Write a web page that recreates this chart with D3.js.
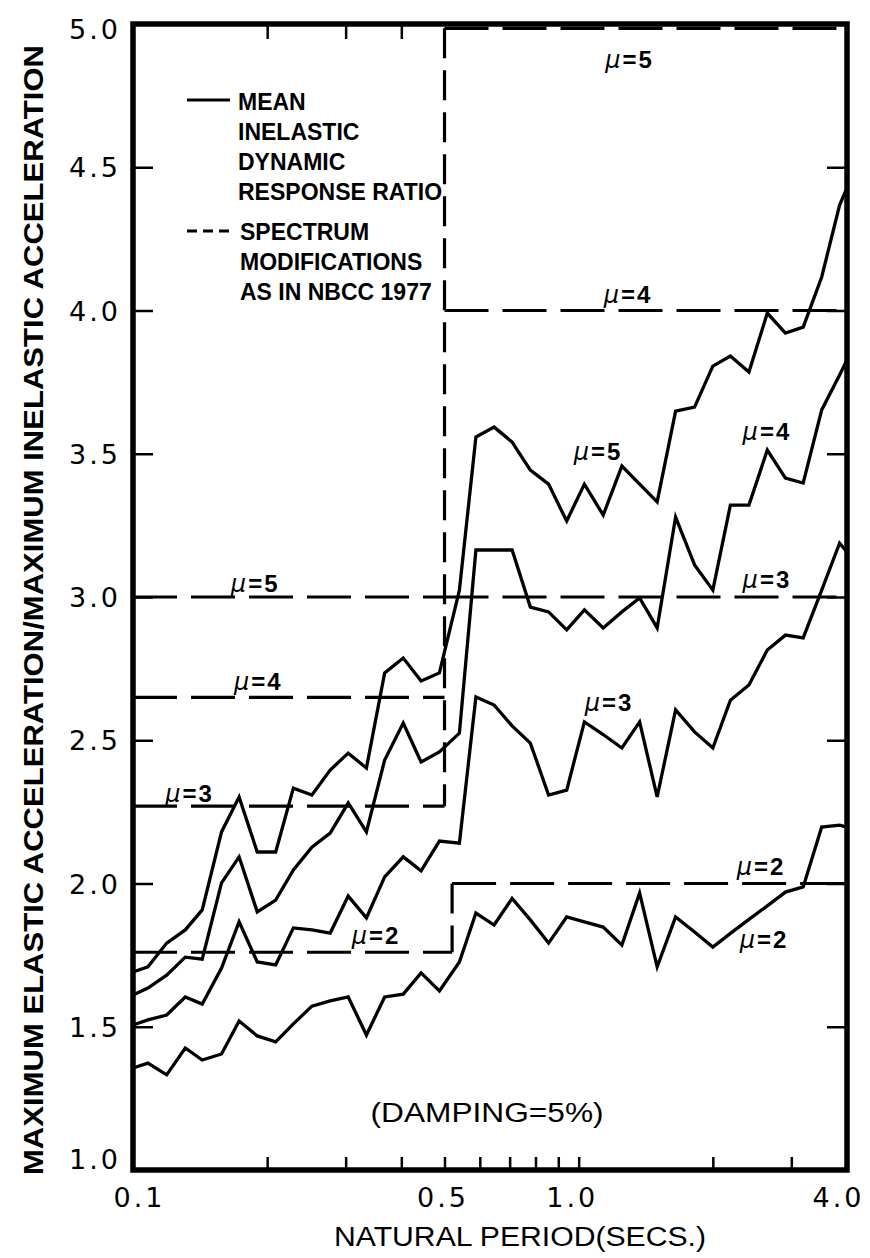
<!DOCTYPE html>
<html lang="en">
    <head>
        <meta charset="utf-8">
        <title>Inelastic Dynamic Response Ratio</title>
        <script type="text/javascript" src="https://d3js.org/d3.v7.min.js"></script>
        <style type="text/css">
            body{ margin:0; background:#fff; }
            .curve{ fill:none; stroke:#000; stroke-width:3.3px; stroke-linejoin:miter; }
            .spec{ fill:none; stroke:#000; stroke-width:3.2px; }
            .frame{ fill:none; stroke:#000; stroke-width:5.5px; }
            .axis path{ display:none; }
            .axis line{ stroke:#000; stroke-width:2.5px; }
            .axis text{ font-family:"DejaVu Sans"; font-size:27px; fill:#000; letter-spacing:3px; }
            .legend text{ font-family:"Liberation Sans"; font-weight:bold; font-size:23px; }
            .mu{ font-family:"Liberation Sans"; font-weight:bold; font-size:24px; letter-spacing:2px; }
            .title{ font-family:"Liberation Sans"; font-size:27px; }
        </style>
    </head>
    <body>
        <svg id="chart" width="870" height="1258"></svg>
        <script type="text/javascript">
        //periods (secs) at which the mean ratios were computed
        const periods = [0.100, 0.108, 0.119, 0.131, 0.143, 0.158, 0.173, 0.190, 0.209, 0.229,
                         0.252, 0.277, 0.304, 0.334, 0.367, 0.404, 0.443, 0.487, 0.540, 0.588,
                         0.646, 0.709, 0.779, 0.856, 0.940, 1.03, 1.135, 1.25, 1.37, 1.50,
                         1.65, 1.82, 2.00, 2.19, 2.41, 2.65, 2.91, 3.19, 3.51, 3.85, 4.00];
        //mean inelastic dynamic response ratio, one array per ductility
        const mu2 = [1.356, 1.373, 1.332, 1.426, 1.384, 1.405, 1.520, 1.468, 1.447, 1.510,
                     1.572, 1.590, 1.604, 1.471, 1.604, 1.614, 1.688, 1.625, 1.726, 1.897,
                     1.855, 1.948, 1.873, 1.792, 1.883, 1.866, 1.848, 1.785, 1.967, 1.709,
                     1.883, 1.831, 1.778, 1.826, 1.875, 1.922, 1.970, 1.988, 2.197, 2.204, 2.197];
        const mu3 = [1.506, 1.524, 1.541, 1.604, 1.579, 1.705, 1.866, 1.726, 1.716, 1.845,
                     1.838, 1.827, 1.956, 1.880, 2.023, 2.093, 2.044, 2.148, 2.141, 2.651,
                     2.623, 2.550, 2.490, 2.309, 2.326, 2.564, 2.520, 2.473, 2.564, 2.302,
                     2.606, 2.529, 2.473, 2.640, 2.693, 2.815, 2.867, 2.857, 3.024, 3.188, 3.157];
        const mu4 = [1.611, 1.635, 1.680, 1.743, 1.736, 2.002, 2.093, 1.901, 1.942, 2.047,
                     2.127, 2.176, 2.281, 2.180, 2.431, 2.560, 2.424, 2.459, 2.525, 3.164,
                     3.164, 3.164, 2.965, 2.948, 2.885, 2.955, 2.892, 2.948, 2.997, 2.892,
                     3.279, 3.112, 3.024, 3.321, 3.321, 3.513, 3.415, 3.398, 3.653, 3.775, 3.827];
        const mu5 = [1.691, 1.709, 1.792, 1.838, 1.908, 2.180, 2.302, 2.110, 2.110, 2.333,
                     2.309, 2.396, 2.455, 2.403, 2.735, 2.787, 2.707, 2.735, 3.024, 3.558,
                     3.593, 3.541, 3.443, 3.394, 3.265, 3.394, 3.286, 3.457, 3.394, 3.332,
                     3.649, 3.663, 3.806, 3.841, 3.785, 3.991, 3.921, 3.942, 4.117, 4.368, 4.428];
        //NBCC 1977 spectrum modifications
        const specMu = [2, 3, 4, 5];
        const specShort = [1.76, 2.27, 2.65, 3.0];
        const specLong = [2.0, 3.0, 4.0, 4.985];
        const specBreak = [0.52, 0.5, 0.5, 0.5];
        //ticks
        const xTicks = [0.1, 0.2, 0.3, 0.4, 0.5, 0.6, 0.7, 0.8, 0.9, 1.0, 2.0, 3.0, 4.0];
        const xTopTicks = [0.2, 0.3, 0.4];
        const xLabels = [0.1, 0.5, 1.0, 4.0];
        const yTicks = [1.0, 1.5, 2.0, 2.5, 3.0, 3.5, 4.0, 4.5, 5.0];
        //mu labels on the curves
        const labelMu = [5, 4, 5, 4, 3, 3, 2, 2, 5, 4, 3, 2];
        const labelPeriod = [1.30, 1.29, 1.105, 2.645, 2.645, 1.17, 2.565, 2.605, 0.188, 0.191, 0.134, 0.351];
        const labelValue = [4.846, 4.026, 3.478, 3.548, 3.031, 2.602, 2.030, 1.775, 3.017, 2.675, 2.284, 1.789];

        const svg = d3.select("#chart");
        const x = d3.scaleLog().domain([0.1, 4]).range([133, 847]);
        const y = d3.scaleLinear().domain([1, 5]).range([1170, 24]);

        //spectrum dashed lines (horizontal parts)
        const hLine = d3.line().x(d => x(d[0])).y(d => y(d[1]));
        specMu.forEach((m, i) => {
            svg.append("path").attr("class", "spec")
               .attr("stroke-dasharray", "44,14")
               .attr("d", hLine([[0.1, specShort[i]], [specBreak[i], specShort[i]]]));
            svg.append("path").attr("class", "spec")
               .attr("stroke-dasharray", "44,14")
               .attr("d", hLine([[specBreak[i], specLong[i]], [4, specLong[i]]]));
        });
        //vertical parts, one per break period
        d3.group(d3.range(specMu.length), i => specBreak[i]).forEach((idx, b) => {
            const lo = d3.min(idx, i => specShort[i]);
            const hi = d3.max(idx, i => specLong[i]);
            svg.append("path").attr("class", "spec")
               .attr("stroke-dasharray", "30,12")
               .attr("d", hLine([[b, hi], [b, lo]]));
        });

        //mean curves
        const line = d3.line().x((d, i) => x(periods[i])).y(d => y(d));
        svg.selectAll(".curve")
           .data([mu2, mu3, mu4, mu5])
           .join("path")
           .attr("class", "curve")
           .attr("d", line);

        //axes with inward ticks
        const fmt = d3.format(".1f");
        const bottom = svg.append("g").attr("class", "axis")
            .attr("transform", "translate(0,1170)")
            .call(d3.axisBottom(x).tickValues(xTicks).tickSize(-13).tickPadding(18)
                  .tickFormat(d => xLabels.includes(d) ? fmt(d) : ""));
        const nudge = {0.1: 6, 0.5: -2, 1: -7, 4: -9};
        bottom.selectAll("text").attr("dx", d => nudge[d] || 0);

        svg.append("g").attr("class", "axis")
            .attr("transform", "translate(0,24)")
            .call(d3.axisTop(x).tickValues(xTopTicks).tickSize(-15).tickFormat(""));

        const left = svg.append("g").attr("class", "axis")
            .attr("transform", "translate(133,0)")
            .call(d3.axisLeft(y).tickValues(yTicks).tickSize(-20).tickPadding(12).tickFormat(fmt));
        left.selectAll("text").attr("dy", d => d === 5 ? "0.55em" : d === 1 ? "-0.05em" : "0.36em");

        svg.append("g").attr("class", "axis")
            .attr("transform", "translate(847,0)")
            .call(d3.axisRight(y).tickValues(yTicks.slice(1, -1)).tickSize(-20).tickFormat(""));

        //frame
        svg.append("rect").attr("class", "frame")
           .attr("x", x(0.1)).attr("y", y(5))
           .attr("width", x(4) - x(0.1)).attr("height", y(1) - y(5));

        //mu labels
        labelMu.forEach((m, i) => {
            const t = svg.append("text").attr("class", "mu")
                .attr("x", x(labelPeriod[i])).attr("y", y(labelValue[i]))
                .attr("text-anchor", "middle");
            t.append("tspan").attr("font-style", "italic").attr("font-weight", "normal")
             .attr("font-family", "DejaVu Sans").text("\u03bc");
            t.append("tspan").text("=" + m);
        });

        //legend
        const legend = svg.append("g").attr("class", "legend").attr("transform", "translate(187,0)");
        legend.append("line").attr("x1", 0).attr("x2", 43).attr("y1", 100).attr("y2", 100)
              .attr("stroke", "#000").attr("stroke-width", 3);
        legend.append("line").attr("x1", 0).attr("x2", 43).attr("y1", 231).attr("y2", 231)
              .attr("stroke", "#000").attr("stroke-width", 3).attr("stroke-dasharray", "10,6");
        const legendRows = ["MEAN", "INELASTIC", "DYNAMIC", "RESPONSE RATIO"];
        const legendRows2 = ["SPECTRUM", "MODIFICATIONS", "AS IN NBCC 1977"];
        legendRows.forEach((s, i) => legend.append("text").attr("x", 51).attr("y", 110 + i * 30).text(s));
        legendRows2.forEach((s, i) => legend.append("text").attr("x", 53).attr("y", 240 + i * 30).text(s));

        //damping note
        svg.append("text").attr("class", "title")
           .attr("x", x(0.623)).attr("y", y(1.168))
           .attr("text-anchor", "middle")
           .attr("textLength", 233).attr("lengthAdjust", "spacingAndGlyphs")
           .text("(DAMPING=5%)");

        //axis titles
        svg.append("text").attr("class", "title")
           .attr("x", 520).attr("y", 1246)
           .attr("text-anchor", "middle")
           .attr("textLength", 372).attr("lengthAdjust", "spacingAndGlyphs")
           .text("NATURAL PERIOD(SECS.)");
        svg.append("text").attr("class", "title")
           .attr("transform", "translate(43,610) rotate(-90)")
           .attr("text-anchor", "middle")
           .attr("font-weight", "bold").attr("font-size", 29)
           .attr("textLength", 1130).attr("lengthAdjust", "spacingAndGlyphs")
           .text("MAXIMUM ELASTIC ACCELERATION/MAXIMUM INELASTIC ACCELERATION");
        </script>
    </body>
</html>
